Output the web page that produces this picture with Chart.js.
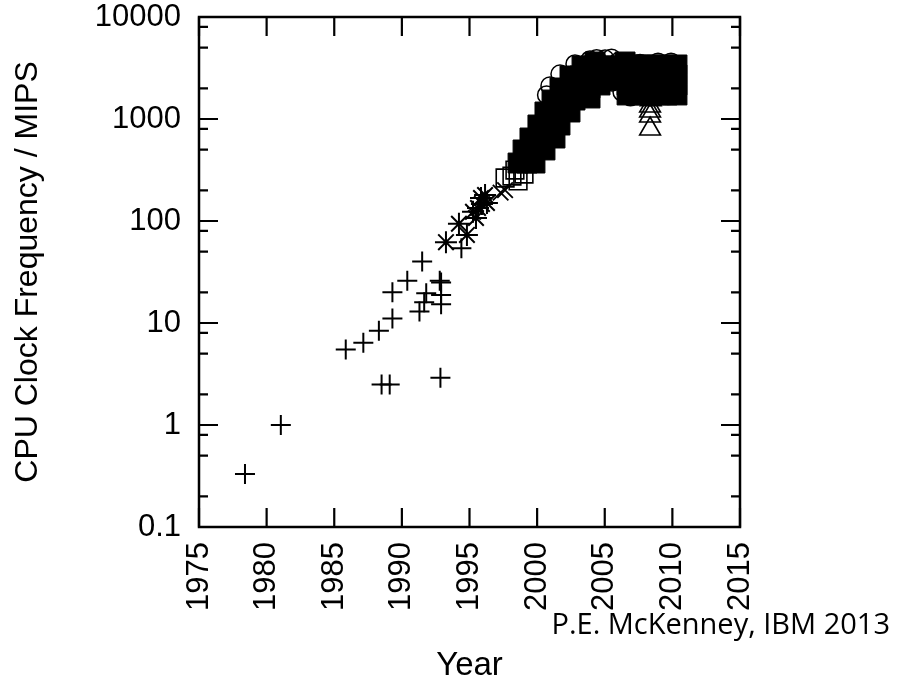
<!DOCTYPE html>
<html>
<head>
<meta charset="utf-8">
<script src="https://cdn.jsdelivr.net/npm/chart.js@4.4.0/dist/chart.umd.min.js"></script>
<style>
  html, body { margin: 0; padding: 0; background: #fff; }
  #wrap { width: 898px; height: 686px; }
</style>
</head>
<body>
<div id="wrap"><canvas id="cpuChart" width="898" height="686"></canvas></div>
<script>
// DATOS (año, MIPS) — un par de arrays por tipo de marca

// "+" : primeras CPUs
const plusYear = [1978.4, 1981.05, 1985.85, 1987.15, 1988.3, 1989.3, 1989.3, 1990.4, 1991.5, 1991.8,
  1991.3, 1991.65, 1992.8, 1992.9, 1992.9, 1992.9, 1988.5, 1989.1, 1992.85, 1994.4];
const plusMips = [0.33, 1.0, 5.5, 6.4, 8.4, 11.1, 20, 26, 40, 19.6,
  13, 16, 26, 25, 18.8, 15.3, 2.5, 2.5, 2.9, 54];

// "*"
const starYear = [1993.26, 1994.22, 1994.81, 1995.26, 1995.63, 1995.85, 1996.15, 1996.29, 1995.92, 1995.48];
const starMips = [62, 94, 73, 123, 134, 168, 180, 150, 147, 107];

// "x"
const crossYear = [1997.63, 1997.3];
const crossMips = [201, 190];

// cuadrados vacíos
const openSqYear = [1997.63, 1998.14, 1998.59, 1999.03, 1998.36];
const openSqMips = [264, 276, 247, 289, 316];

// cuadrados rellenos
const fillSqYear = [1998.59, 1999.84, 1998.96, 2000.58, 1999.47, 2001.32, 2000.06, 2001.69, 2000.58, 2002.43,
  2001.10, 2002.80, 2003.91, 2001.69, 2003.17, 2004.65, 2002.43, 2003.91, 2005.39, 2003.32, 2004.65, 2006.13,
  1999.25, 1999.77, 2000.36, 2000.88, 2001.47, 2001.91, 2002.43, 2003.91, 2003.17, 2004.65, 2003.98, 2005.39,
  2004.28, 2006.50, 2005.54,
  2006.65, 2007.38, 2008.12, 2008.86, 2009.60, 2010.34,
  2006.65, 2007.38, 2008.12, 2008.86, 2009.60, 2010.34,
  2006.65, 2007.38, 2008.12, 2008.86, 2009.60, 2010.34,
  2006.65, 2007.38, 2008.12, 2008.86, 2009.60, 2010.34];
const fillSqMips = [370, 370, 497, 497, 651, 651, 873, 873, 1171, 1171,
  1535, 1535, 1607, 2014, 2014, 2155, 2640, 2640, 2640, 3310, 3310, 3310,
  370, 497, 651, 873, 1171, 1535, 2014, 2014, 2640, 2640, 3310, 3310,
  3620, 3620, 2410,
  3385, 3385, 3385, 3385, 3385, 3385,
  2700, 2700, 2700, 2700, 2700, 2700,
  2155, 2155, 2155, 2155, 2155, 2155,
  1720, 1720, 1720, 1720, 1720, 1720];

// círculos vacíos
const circleYear = [2000.7, 2000.95, 2001.69, 2002.80, 2003.91, 2005.02, 2005.98, 2004.65, 2005.54, 2006.28,
  2006.9, 2007.61, 2008.94, 2009.9, 2010.2, 2010.2, 2008.35, 2009.68, 2004.4, 2005.5];
const circleMips = [1720, 2110, 2760, 3460, 3790, 3870, 3620, 2890, 2310, 1840,
  1650, 3500, 3600, 3600, 3300, 1800, 1650, 1700, 3900, 3950];

// triángulos
const triYear = [2008.35, 2008.35, 2008.35, 2008.35, 2008.4];
const triMips = [798, 1070, 1197, 1340, 1550];

// EJES
const xTickValues = [1975, 1980, 1985, 1990, 1995, 2000, 2005, 2010, 2015];
const xTickLabels = ["1975", "1980", "1985", "1990", "1995", "2000", "2005", "2010", "2015"];
const yTickValues = [0.1, 1, 10, 100, 1000, 10000];
const yTickLabels = ["0.1", "1", "10", "100", "1000", "10000"];
const yMinorSteps = [2, 5, 8];

const creditText = "P.E. McKenney, IBM 2013";

const toPoints = (xs, ys) => xs.map((x, i) => ({ x: x, y: ys[i] }));

function serie(label, xs, ys, style, radius, filled, lw) {
  return {
    label: label,
    data: toPoints(xs, ys),
    showLine: false,
    pointStyle: style,
    pointRadius: radius,
    pointHoverRadius: radius,
    pointBorderWidth: lw,
    pointHoverBorderWidth: lw,
    pointBorderColor: "#000",
    pointBackgroundColor: filled ? "#000" : "rgba(0,0,0,0)",
  };
}

// Marco y marcas hacia dentro, como en gnuplot
const frameTicks = {
  id: "frameTicks",
  afterDraw(chart) {
    const ctx = chart.ctx;
    const a = chart.chartArea;
    const sx = chart.scales.x;
    const sy = chart.scales.y;
    ctx.save();
    ctx.strokeStyle = "#000";
    ctx.lineWidth = 2.5;
    ctx.strokeRect(a.left, a.top, a.right - a.left, a.bottom - a.top);

    ctx.beginPath();
    xTickValues.forEach((v) => {
      const px = sx.getPixelForValue(v);
      ctx.moveTo(px, a.bottom);
      ctx.lineTo(px, a.bottom - 19);
      ctx.moveTo(px, a.top);
      ctx.lineTo(px, a.top + 19);
    });
    yTickValues.forEach((v) => {
      const py = sy.getPixelForValue(v);
      ctx.moveTo(a.left, py);
      ctx.lineTo(a.left + 19, py);
      ctx.moveTo(a.right, py);
      ctx.lineTo(a.right - 19, py);
    });
    yTickValues.slice(0, -1).forEach((d) => {
      yMinorSteps.forEach((m) => {
        const py = sy.getPixelForValue(d * m);
        ctx.moveTo(a.left, py);
        ctx.lineTo(a.left + 9, py);
        ctx.moveTo(a.right, py);
        ctx.lineTo(a.right - 9, py);
      });
    });
    ctx.lineWidth = 2.2;
    ctx.stroke();

    ctx.fillStyle = "#000";
    ctx.font = "29px 'Open Sans'";
    ctx.textAlign = "right";
    ctx.textBaseline = "alphabetic";
    ctx.fillText(creditText, 890, 634);
    ctx.restore();
  },
};

const tickFont = { family: "'Liberation Sans', Arial, sans-serif", size: 31 };

new Chart(document.getElementById("cpuChart"), {
  type: "scatter",
  data: {
    datasets: [
      serie("+", plusYear, plusMips, "cross", 10, false, 2),
      serie("*", starYear, starMips, "star", 11, false, 2),
      serie("x", crossYear, crossMips, "crossRot", 11, false, 1.8),
      serie("open square", openSqYear, openSqMips, "rect", 12.5, false, 1.6),
      serie("triangle", triYear, triMips, "triangle", 12, false, 1.6),
      serie("circle", circleYear, circleMips, "circle", 9, false, 1.5),
      serie("filled square", fillSqYear, fillSqMips, "rect", 14.1, true, 1),
    ],
  },
  options: {
    responsive: false,
    animation: false,
    events: [],
    layout: { padding: { top: 17, right: 158, bottom: 0, left: 0 } },
    plugins: {
      legend: { display: false },
      tooltip: { enabled: false },
    },
    scales: {
      x: {
        type: "linear",
        min: 1975,
        max: 2015,
        grid: { display: false, drawTicks: false },
        border: { display: false },
        afterBuildTicks: (s) => {
          s.ticks = xTickValues.map((v) => ({ value: v }));
        },
        afterFit: (s) => {
          s.height = 159;
          s.paddingLeft = 0;
          s.paddingRight = 0;
        },
        ticks: {
          autoSkip: false,
          minRotation: 90,
          maxRotation: 90,
          padding: 15,
          color: "#000",
          font: tickFont,
          callback: (v, i) => xTickLabels[i],
        },
        title: {
          display: true,
          text: "Year",
          color: "#000",
          font: { family: "'Liberation Sans', Arial, sans-serif", size: 33 },
          padding: { top: 6, bottom: 0 },
        },
      },
      y: {
        type: "logarithmic",
        min: 0.1,
        max: 10000,
        grid: { display: false, drawTicks: false },
        border: { display: false },
        afterBuildTicks: (s) => {
          s.ticks = yTickValues.map((v) => ({ value: v }));
        },
        afterFit: (s) => {
          s.width = 199;
          s.paddingTop = 0;
          s.paddingBottom = 0;
        },
        ticks: {
          padding: 18,
          color: "#000",
          font: tickFont,
          callback: (v, i) => yTickLabels[i],
        },
        title: {
          display: true,
          text: "CPU Clock Frequency / MIPS",
          color: "#000",
          font: { family: "'Liberation Sans', Arial, sans-serif", size: 32 },
          padding: { top: 9, bottom: 0 },
        },
      },
    },
  },
  plugins: [frameTicks],
});
</script>
</body>
</html>
